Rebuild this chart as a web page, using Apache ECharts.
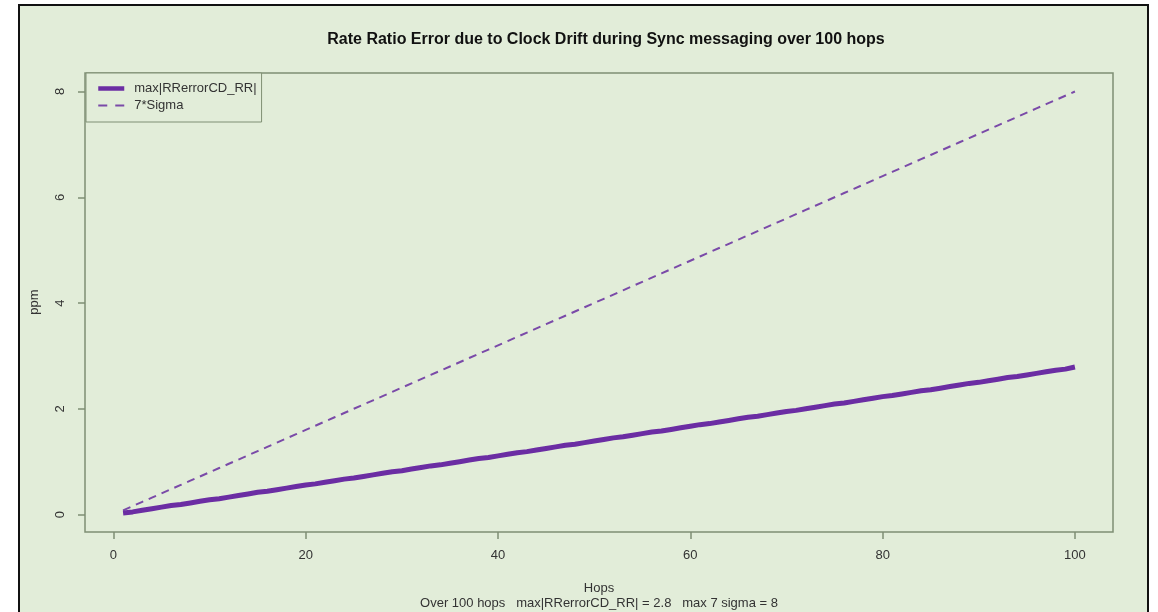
<!DOCTYPE html>
<html>
<head>
<meta charset="utf-8">
<script src="https://cdn.jsdelivr.net/npm/echarts@6/dist/echarts.min.js"></script>
<style>
html,body{margin:0;padding:0;background:#ffffff;width:1158px;height:612px;overflow:hidden;}
#frame{position:absolute;left:18px;top:4px;width:1127px;height:620px;border:2px solid #111;background:#e2edd9;}
#chart{position:absolute;left:0;top:0;width:1158px;height:612px;}
</style>
</head>
<body>
<div id="frame"></div>
<div id="chart"></div>
<script>
const titleText = "Rate Ratio Error due to Clock Drift during Sync messaging over 100 hops";
const xAxisName = "Hops";
const subText = "Over 100 hops   max|RRerrorCD_RR| = 2.8   max 7 sigma = 8";
const yAxisName = "ppm";
const seriesNames = ["max|RRerrorCD_RR|", "7*Sigma"];
const xTicks = [0, 20, 40, 60, 80, 100];
const yTicks = [0, 2, 4, 6, 8];
const hops = Array.from({length: 100}, (_, i) => i + 1);
const maxRRerror = [
0.03,0.05,0.08,0.11,0.14,0.17,0.19,0.22,0.25,0.28,
0.30,0.33,0.36,0.39,0.42,0.44,0.47,0.50,0.53,0.56,
0.58,0.61,0.64,0.67,0.69,0.72,0.75,0.78,0.81,0.83,
0.86,0.89,0.92,0.94,0.97,1.00,1.03,1.06,1.08,1.11,
1.14,1.17,1.19,1.22,1.25,1.28,1.31,1.33,1.36,1.39,
1.42,1.45,1.47,1.50,1.53,1.56,1.58,1.61,1.64,1.67,
1.70,1.72,1.75,1.78,1.81,1.84,1.86,1.89,1.92,1.95,
1.97,2.00,2.03,2.06,2.09,2.11,2.14,2.17,2.20,2.23,
2.25,2.28,2.31,2.34,2.36,2.39,2.42,2.45,2.48,2.50,
2.53,2.56,2.59,2.61,2.64,2.67,2.70,2.73,2.75,2.79
];
const sevenSigma = [
0.08,0.16,0.24,0.32,0.40,0.48,0.56,0.64,0.72,0.80,
0.88,0.96,1.04,1.12,1.20,1.28,1.36,1.44,1.52,1.60,
1.68,1.76,1.84,1.92,2.00,2.08,2.16,2.24,2.32,2.40,
2.48,2.56,2.64,2.72,2.80,2.88,2.96,3.04,3.12,3.20,
3.28,3.36,3.44,3.52,3.60,3.68,3.76,3.84,3.92,4.00,
4.08,4.16,4.24,4.32,4.40,4.48,4.56,4.64,4.72,4.80,
4.88,4.96,5.04,5.12,5.20,5.28,5.36,5.44,5.52,5.60,
5.68,5.76,5.84,5.92,6.00,6.08,6.16,6.24,6.32,6.40,
6.48,6.56,6.64,6.72,6.80,6.88,6.96,7.04,7.12,7.20,
7.28,7.36,7.44,7.52,7.60,7.68,7.76,7.84,7.92,8.00
];

const axisColor = '#7f8f74';
const textColor = '#333333';
const font = 'Liberation Sans, Arial, sans-serif';
const solidColor = '#6b2da3';
const dashColor = '#7a4aa8';

const chart = echarts.init(document.getElementById('chart'), null, {renderer: 'canvas'});
chart.setOption({
  backgroundColor: 'transparent',
  animation: false,
  textStyle: {fontFamily: font},
  title: {
    text: titleText,
    left: 601, top: 27, textAlign: 'center',
    textStyle: {fontSize: 16, fontWeight: 'bold', color: '#111', fontFamily: font}
  },
  legend: {
    left: 86, top: 73,
    orient: 'vertical',
    padding: [9, 5, 10, 10],
    itemGap: 4,
    itemWidth: 26, itemHeight: 12,
    borderColor: axisColor, borderWidth: 1,
    backgroundColor: '#e2edd9',
    itemStyle: {opacity: 0},
    textStyle: {fontSize: 13, color: textColor, fontFamily: font, padding: [0,0,0,5]},
    data: [
      {name: seriesNames[0], lineStyle: {width: 4.5, color: solidColor}},
      {name: seriesNames[1], lineStyle: {width: 2, color: dashColor, type: [9, 8]}}
    ]
  },
  grid: {left: 85, top: 73, width: 1028, height: 459, show: true, borderColor: axisColor, borderWidth: 1.5, backgroundColor: 'transparent', containLabel: false, outerBoundsMode: 'none'},
  xAxis: {
    type: 'value', min: -2.96, max: 103.96,
    axisLine: {show: false, onZero: false},
    splitLine: {show: false},
    axisTick: {show: true, length: 7, lineStyle: {color: axisColor, width: 1.5}, customValues: xTicks},
    axisLabel: {fontSize: 13, color: textColor, margin: 17, fontFamily: font, customValues: xTicks}
  },
  yAxis: {
    type: 'value', min: -0.33, max: 8.35,
    axisLine: {show: false, onZero: false},
    splitLine: {show: false},
    axisTick: {show: true, length: 7, lineStyle: {color: axisColor, width: 1.5}, customValues: yTicks},
    axisLabel: {fontSize: 13, color: textColor, margin: 18, rotate: 90, fontFamily: font, customValues: yTicks}
  },
  graphic: [
    {type: 'text', style: {text: xAxisName, x: 599, y: 588, textAlign: 'center', textVerticalAlign: 'middle', fontSize: 13, fill: textColor, fontFamily: font}},
    {type: 'text', style: {text: subText, x: 599, y: 603, textAlign: 'center', textVerticalAlign: 'middle', fontSize: 13, fill: textColor, fontFamily: font}},
    {type: 'text', x: 34, y: 302, rotation: Math.PI/2, style: {text: yAxisName, x: 0, y: 0, textAlign: 'center', textVerticalAlign: 'middle', fontSize: 13, fill: textColor, fontFamily: font}}
  ],
  series: [
    {
      name: seriesNames[0], type: 'line', symbol: 'none', z: 3,
      data: hops.map((h, i) => [h, maxRRerror[i]]),
      lineStyle: {color: solidColor, width: 5},
      itemStyle: {color: solidColor}
    },
    {
      name: seriesNames[1], type: 'line', symbol: 'none', z: 2,
      data: hops.map((h, i) => [h, sevenSigma[i]]),
      lineStyle: {color: dashColor, width: 2, type: [8, 6]},
      itemStyle: {color: dashColor}
    }
  ]
});
</script>
</body>
</html>
